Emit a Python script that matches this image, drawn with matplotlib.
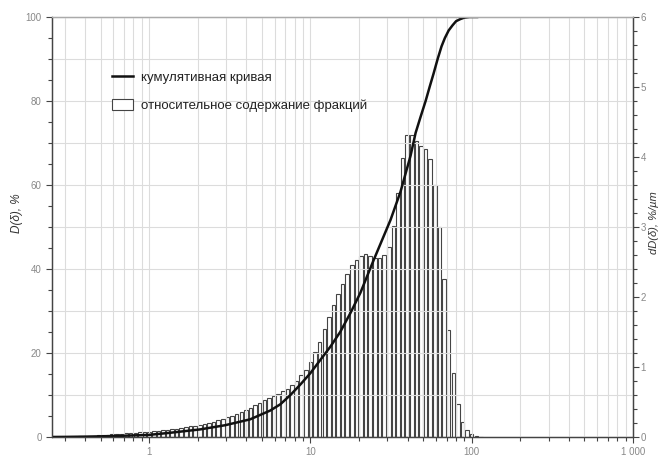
import numpy as np
import matplotlib.pyplot as plt
from matplotlib.ticker import FixedLocator, LogLocator, MultipleLocator, FuncFormatter

plt.rcParams['font.family'] = ['Liberation Sans', 'DejaVu Sans']

# размеры фракций (центры классов), мкм
sizes = [0.327, 0.349, 0.373, 0.398, 0.425, 0.454, 0.485, 0.518, 0.553, 0.591,
         0.631, 0.674, 0.720, 0.769, 0.821, 0.877, 0.936, 1.00, 1.07, 1.14,
         1.22, 1.30, 1.39, 1.48, 1.58, 1.69, 1.81, 1.93, 2.06, 2.20,
         2.35, 2.51, 2.68, 2.87, 3.06, 3.27, 3.49, 3.73, 3.98, 4.25,
         4.54, 4.85, 5.18, 5.53, 5.91, 6.31, 6.74, 7.20, 7.69, 8.21,
         8.77, 9.36, 10.0, 10.7, 11.4, 12.2, 13.0, 13.9, 14.8, 15.8,
         16.9, 18.1, 19.3, 20.6, 22.0, 23.5, 25.1, 26.8, 28.7, 30.6,
         32.7, 34.9, 37.3, 39.8, 42.5, 45.4, 48.5, 51.8, 55.3, 59.1,
         63.1, 67.4, 72.0, 76.9, 82.1, 87.7, 93.6, 100.0, 107.0, 114.0]

# относительное содержание фракций, %/мкм
dens = [0.003, 0.006, 0.009, 0.012, 0.016, 0.020, 0.024, 0.028, 0.033, 0.038,
        0.043, 0.048, 0.053, 0.058, 0.063, 0.068, 0.073, 0.078, 0.083, 0.088,
        0.094, 0.100, 0.11, 0.12, 0.13, 0.14, 0.15, 0.16, 0.175, 0.19,
        0.20, 0.22, 0.24, 0.26, 0.28, 0.30, 0.33, 0.35, 0.38, 0.41,
        0.45, 0.49, 0.53, 0.56, 0.59, 0.62, 0.65, 0.69, 0.74, 0.80,
        0.88, 0.96, 1.07, 1.21, 1.36, 1.54, 1.71, 1.88, 2.04, 2.19,
        2.33, 2.45, 2.53, 2.59, 2.61, 2.59, 2.55, 2.55, 2.60, 2.72,
        3.02, 3.48, 3.98, 4.31, 4.31, 4.23, 4.15, 4.11, 3.97, 3.60,
        3.00, 2.25, 1.53, 0.91, 0.47, 0.22, 0.10, 0.04, 0.015, 0.005]

# кумулятивная кривая
cum_size = [0.25, 0.3, 0.4, 0.5, 0.7, 1.0, 1.35, 2.07, 2.96, 4.23, 5.64, 6.52,
            7.52, 8.67, 10.0, 11.5, 13.3, 15.3, 17.7, 20.4, 24.6, 31.4, 36.2,
            41.8, 44.9, 48.0, 51.8, 55.0, 58.0, 61.5, 65.0, 68.2, 72.0, 76.0,
            80.0, 85.0, 90.0, 97.0, 108.0]
cum_pct = [0.0, 0.02, 0.08, 0.15, 0.3, 0.5, 1.0, 1.8, 2.8, 4.2, 6.3, 7.8,
           10.0, 12.5, 15.2, 18.3, 21.5, 25.0, 29.5, 34.3, 42.0, 51.7, 58.4,
           67.0, 72.4, 76.0, 80.0, 83.5, 86.5, 90.0, 93.0, 95.0, 96.8, 98.0,
           99.0, 99.5, 99.85, 100.0, 100.0]

x_ticks = [1, 10, 100, 1000]
x_tick_labels = ['1', '10', '100', '1 000']

fig = plt.figure(figsize=(6.64, 4.58), dpi=100)
ax = fig.add_axes([0.0783, 0.0459, 0.875, 0.917])
ax2 = ax.twinx()
ax.set_zorder(ax2.get_zorder() + 1)
ax.patch.set_visible(False)

# столбики: ширина в лог-масштабе
s = np.array(sizes)
r = s[1] / s[0]
w = 0.78
left = s * r ** (-w / 2)
right = s * r ** (w / 2)
ax2.bar(left, dens, width=right - left, align='edge', color='white',
        edgecolor='#444444', linewidth=0.8, label='относительное содержание фракций')

ax.plot(cum_size, cum_pct, color='#111111', lw=1.8, label='кумулятивная кривая')

ax.set_xscale('log')
ax.set_xlim(0.25, 1000)
ax.set_ylim(0, 100)
ax2.set_ylim(0, 6)

ax.xaxis.set_major_locator(FixedLocator(x_ticks))
ax.xaxis.set_major_formatter(FuncFormatter(lambda v, p: x_tick_labels[x_ticks.index(round(v))] if round(v) in x_ticks else ''))
ax.xaxis.set_minor_locator(LogLocator(base=10, subs=np.arange(2, 10)))
ax.xaxis.set_minor_formatter(FuncFormatter(lambda v, p: ''))
ax.yaxis.set_major_locator(MultipleLocator(20))
ax.yaxis.set_minor_locator(MultipleLocator(5))
ax2.yaxis.set_major_locator(MultipleLocator(1))
ax2.yaxis.set_minor_locator(MultipleLocator(0.2))

ax.grid(True, which='both', axis='x', color='#dcdcdc', lw=0.8)
for yv in range(10, 101, 10):
    ax.axhline(yv, color='#dcdcdc', lw=0.8, zorder=0)

for a in (ax, ax2):
    a.tick_params(which='major', direction='out', length=4, width=0.8, colors='#444444',
                  labelcolor='#888888', labelsize=7)
    a.tick_params(which='minor', direction='out', length=3, width=0.8, colors='#444444')
    for sp in a.spines.values():
        sp.set_color('#444444')
        sp.set_linewidth(0.9)
    a.spines['top'].set_color('#aaaaaa')
ax2.tick_params(which='major', pad=1.5)

ax.set_ylabel('D(δ), %', style='italic', color='#333333', fontsize=8.5)
ax.yaxis.set_label_coords(-0.05, 0.533)
ax2.set_ylabel('dD(δ), %/µm', style='italic', color='#333333', fontsize=8)
ax2.yaxis.set_label_coords(1.027, 0.51)

h1, l1 = ax.get_legend_handles_labels()
h2, l2 = ax2.get_legend_handles_labels()
ax.legend(h1 + h2, l1 + l2, loc='upper left', bbox_to_anchor=(0.082, 0.9), frameon=False,
          fontsize=9.5, handlelength=1.6, handleheight=0.9, labelspacing=1.15,
          handletextpad=0.6, labelcolor='#222222')

fig.savefig('out.png', dpi=100)
